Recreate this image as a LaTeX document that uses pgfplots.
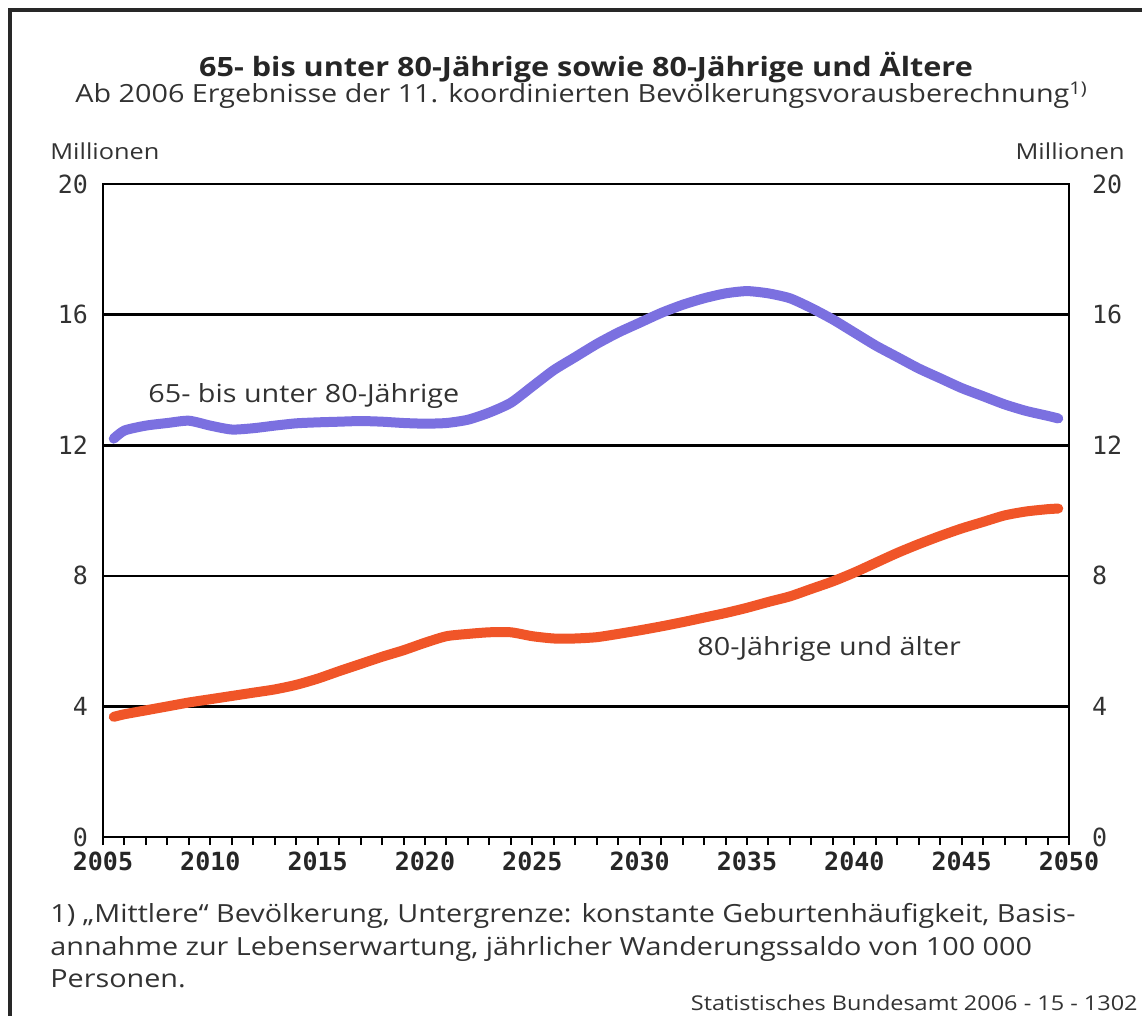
\documentclass[border=0pt]{standalone}
\usepackage{fontspec}
\setmainfont{Open Sans}[FakeStretch=1.15]
\newfontfamily\tickfont{DejaVu Sans Mono}
\usepackage{pgfplots}
\usepackage{pgfplotstable}
\pgfplotsset{compat=1.18}
\definecolor{blueL}{RGB}{123,112,224}
\definecolor{orangeL}{RGB}{240,85,40}
\definecolor{txt}{RGB}{50,50,50}
\definecolor{frame}{RGB}{40,40,40}

\pgfplotstableread{
year val
2005.5 12.20
2006 12.45
2007 12.60
2008 12.68
2009 12.75
2010 12.60
2011 12.48
2012 12.52
2013 12.60
2014 12.67
2015 12.70
2016 12.72
2017 12.74
2018 12.72
2019 12.68
2020 12.66
2021 12.68
2022 12.78
2023 13.00
2024 13.30
2025 13.80
2026 14.30
2027 14.70
2028 15.10
2029 15.45
2030 15.75
2031 16.05
2032 16.30
2033 16.50
2034 16.65
2035 16.72
2036 16.65
2037 16.50
2038 16.20
2039 15.85
2040 15.45
2041 15.05
2042 14.70
2043 14.35
2044 14.05
2045 13.75
2046 13.50
2047 13.25
2048 13.05
2049 12.90
2049.5 12.82
}\young

\pgfplotstableread{
year val
2005.5 3.68
2006 3.76
2007 3.88
2008 4.00
2009 4.12
2010 4.22
2011 4.32
2012 4.42
2013 4.52
2014 4.66
2015 4.85
2016 5.08
2017 5.30
2018 5.52
2019 5.72
2020 5.95
2021 6.15
2022 6.22
2023 6.27
2024 6.27
2025 6.15
2026 6.08
2027 6.08
2028 6.12
2029 6.22
2030 6.33
2031 6.45
2032 6.58
2033 6.72
2034 6.86
2035 7.02
2036 7.20
2037 7.37
2038 7.60
2039 7.83
2040 8.10
2041 8.40
2042 8.70
2043 8.97
2044 9.22
2045 9.45
2046 9.65
2047 9.85
2048 9.97
2049 10.04
2049.5 10.06
}\old

\begin{document}
\begin{tikzpicture}
\useasboundingbox (0,0) rectangle (571pt,-508pt);
\draw[line width=1.6pt, frame] (5pt,-520pt) -- (5pt,-5pt) -- (580pt,-5pt);

% titles
\node[anchor=base, font=\fontsize{13.3}{15}\selectfont\bfseries, text=black!85] at (293pt,-38.5pt)
  {65- bis unter 80-Jährige sowie 80-Jährige und Ältere};
\node[anchor=base west, font=\fontsize{12.5}{14}\selectfont, text=txt, inner sep=0pt] at (37.5pt,-51.5pt)
  {Ab 2006 Ergebnisse der 11. koordinierten Bevölkerungsvorausberechnung\textsuperscript{1)}};
\node[anchor=base west, font=\fontsize{11}{13}\selectfont, text=txt, inner sep=0pt] at (25pt,-80pt) {Millionen};
\node[anchor=base east, font=\fontsize{11}{13}\selectfont, text=txt, inner sep=0pt] at (562.5pt,-80pt) {Millionen};

\begin{axis}[
  at={(51.5pt,-418.5pt)}, anchor=south west,
  scale only axis, width=483pt, height=326.5pt,
  xmin=2005, xmax=2050, ymin=0, ymax=20,
  xtick={2005,2010,...,2050},
  minor x tick num=4,
  xtick pos=left, tick align=outside,
  major tick length=4pt, minor tick length=4pt,
  every tick/.style={black, line width=1pt},
  ytick={0,4,...,20},
  ytick style={draw=none},
  ymajorgrids,
  grid style={black, line width=1.3pt},
  axis line style={black, line width=1.3pt},
  xticklabel style={font=\tickfont\bfseries\fontsize{12.5}{15}\selectfont, text=black!85},
  yticklabel style={font=\tickfont\fontsize{12.5}{14}\selectfont, text=txt},
  /pgf/number format/1000 sep={},
  /pgf/number format/assume math mode=true,
  clip=false,
]
\addplot[blueL, line width=5pt, line cap=round, line join=round, smooth, tension=0.4] table[x=year,y=val] {\young};
\addplot[orangeL, line width=5pt, line cap=round, line join=round, smooth, tension=0.4] table[x=year,y=val] {\old};
\end{axis}

\begin{axis}[
  at={(51.5pt,-418.5pt)}, anchor=south west,
  scale only axis, width=483pt, height=326.5pt,
  xmin=2005, xmax=2050, ymin=0, ymax=20,
  axis x line=none, axis y line*=right,
  ytick={0,4,...,20}, ytick style={draw=none},
  axis line style={black, line width=1.3pt},
  yticklabel style={font=\tickfont\fontsize{12.5}{14}\selectfont, text=txt, xshift=8pt},
  /pgf/number format/assume math mode=true,
]
\end{axis}

% in-plot labels
\node[anchor=base west, font=\fontsize{12.5}{14}\selectfont, text=txt, inner sep=0pt] at (74pt,-201.5pt) {65- bis unter 80-Jährige};
\node[anchor=base west, font=\fontsize{12.5}{14}\selectfont, text=txt, inner sep=0pt] at (348.5pt,-327.5pt) {80-Jährige und älter};

% footnote
\node[anchor=base west, font=\fontsize{12.5}{14}\selectfont, text=txt, inner sep=0pt] at (25pt,-461pt)
  {1) „Mittlere“ Bevölkerung, Untergrenze: konstante Geburtenhäufigkeit, Basis-};
\node[anchor=base west, font=\fontsize{12.5}{14}\selectfont, text=txt, inner sep=0pt] at (25pt,-477.5pt)
  {annahme zur Lebenserwartung, jährlicher Wanderungssaldo von 100~000};
\node[anchor=base west, font=\fontsize{12.5}{14}\selectfont, text=txt, inner sep=0pt] at (25pt,-493.5pt)
  {Personen.};
\node[anchor=base east, font=\fontsize{10.2}{12}\selectfont, text=txt, inner sep=0pt] at (569pt,-505pt)
  {Statistisches Bundesamt 2006 - 15 - 1302};
\end{tikzpicture}
\end{document}
